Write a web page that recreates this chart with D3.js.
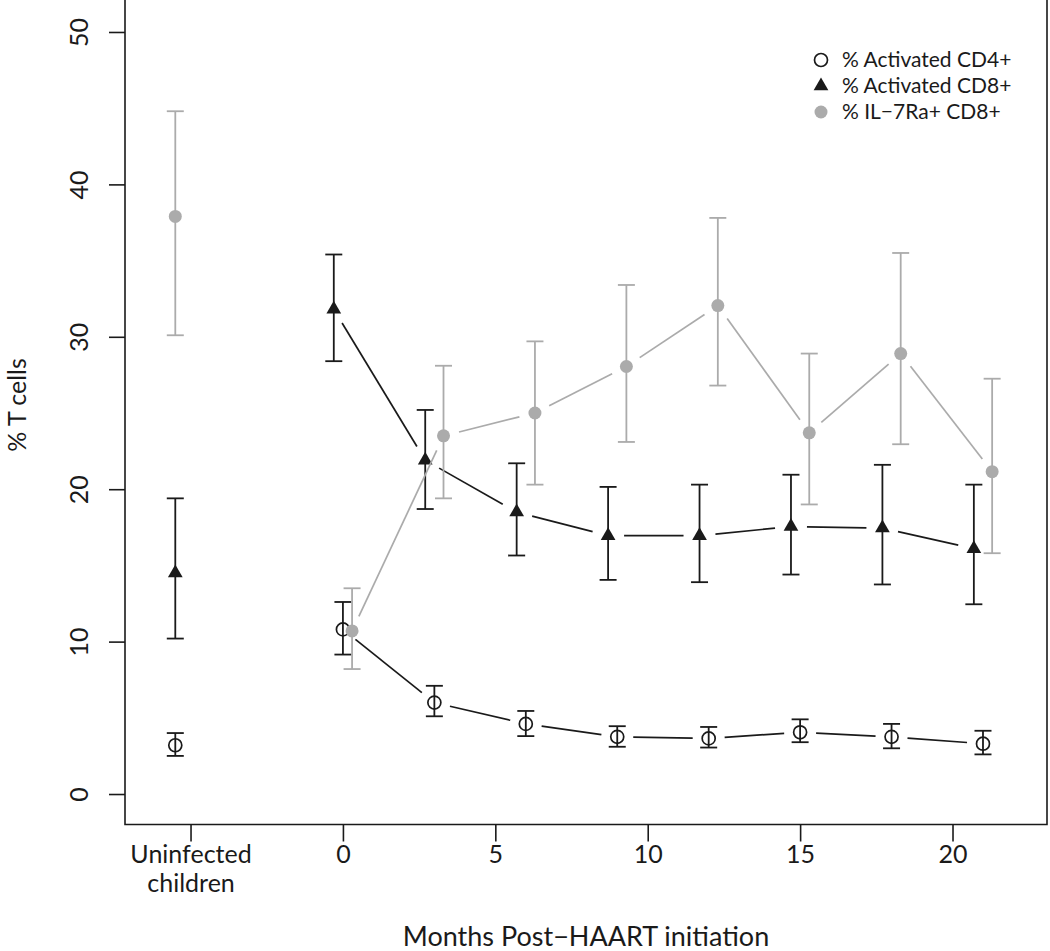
<!DOCTYPE html>
<html>
<head>
<meta charset="utf-8">
<script src="https://cdn.jsdelivr.net/npm/d3@7"></script>
<style>
  html, body { margin: 0; padding: 0; background: #fff; }
  svg text { font-family: Lato, "Liberation Sans", sans-serif; fill: #1a1a1a; }
</style>
</head>
<body>
<svg id="chart" width="1050" height="951"></svg>
<script>
// ---- data ----
const months = [0, 3, 6, 9, 12, 15, 18, 21];
const uninfectedPos = -5.5;          // x position of the uninfected group
const xTickValues = [-5, 0, 5, 10, 15, 20];
const xTickLabels = ["Uninfected\nchildren", "0", "5", "10", "15", "20"];
const yTickValues = [0, 10, 20, 30, 40, 50];

const seriesNames = ["% Activated CD4+", "% Activated CD8+", "% IL\u22127Ra+ CD8+"];
const seriesOffsets = [0, -0.3, 0.3];

// % Activated CD4+
const cd4Mean = [10.8, 6.0, 4.6, 3.75, 3.65, 4.05, 3.75, 3.3];
const cd4Lo   = [9.15, 5.1, 3.8, 3.1, 3.05, 3.4, 3.0, 2.6];
const cd4Hi   = [12.6, 7.1, 5.45, 4.45, 4.4, 4.9, 4.6, 4.15];
const cd4Uninf = [3.2, 2.5, 4.0];        // mean, lo, hi

// % Activated CD8+
const cd8Mean = [31.8, 21.9, 18.5, 16.95, 16.95, 17.55, 17.45, 16.1];
const cd8Lo   = [28.4, 18.7, 15.65, 14.05, 13.9, 14.4, 13.75, 12.45];
const cd8Hi   = [35.4, 25.2, 21.7, 20.15, 20.3, 20.95, 21.6, 20.3];
const cd8Uninf = [14.5, 10.2, 19.4];

// % IL-7Ra+ CD8+
const il7Mean = [10.7, 23.5, 25.0, 28.05, 32.05, 23.7, 28.9, 21.15];
const il7Lo   = [8.2, 19.4, 20.3, 23.1, 26.8, 19.0, 22.95, 15.8];
const il7Hi   = [13.5, 28.1, 29.7, 33.4, 37.8, 28.9, 35.5, 27.25];
const il7Uninf = [37.9, 30.1, 44.8];

// ---- styles ----
const BLACK = "#1a1a1a";
const GREY = "#ababab";

const svg = d3.select("#chart");
const x = d3.scaleLinear().domain([-7.15, 23.1]).range([125, 1047]);
const y = d3.scaleLinear().domain([-2, 52]).range([824.5, 1.5]);

// frame: left, bottom, right (top edge lies outside the picture)
const [x0, x1] = x.range();
const [yb, yt] = y.range();
svg.append("path")
  .attr("d", `M${x0},-2V${yb}H${x1}V-2`)
  .attr("fill", "none").attr("stroke", BLACK).attr("stroke-width", 1.6);

// y axis
const yAxis = d3.axisLeft(y).tickValues(yTickValues).tickSize(16).tickPadding(0).tickFormat(d3.format("d"));
const gy = svg.append("g").attr("transform", `translate(${x0},0)`).call(yAxis);
gy.select(".domain").remove();
gy.selectAll(".tick line").attr("stroke", BLACK).attr("stroke-width", 1.6);
gy.selectAll(".tick text")
  .attr("x", 0).attr("dy", null)
  .attr("transform", "translate(-37,0) rotate(-90)")
  .attr("text-anchor", "middle")
  .style("font-size", "25px").attr("fill", BLACK);

// x axis
const xAxis = d3.axisBottom(x).tickValues(xTickValues).tickSize(17).tickFormat(() => "");
const gx = svg.append("g").attr("transform", `translate(0,${yb})`).call(xAxis);
gx.select(".domain").remove();
gx.selectAll(".tick line").attr("stroke", BLACK).attr("stroke-width", 1.6);
gx.selectAll(".tick").each(function (d, i) {
  const lines = xTickLabels[i].split("\n");
  lines.forEach((ln, j) => {
    d3.select(this).append("text")
      .attr("text-anchor", "middle")
      .attr("x", 0).attr("y", 38 + j * 29)
      .style("font-size", "25px").attr("fill", BLACK)
      .text(ln);
  });
});

// axis titles
svg.append("text")
  .attr("x", (x0 + x1) / 2).attr("y", 946)
  .attr("text-anchor", "middle").style("font-size", "27px")
  .text("Months Post\u2212HAART initiation");
svg.append("text")
  .attr("transform", `translate(26,405) rotate(-90)`)
  .attr("text-anchor", "middle").style("font-size", "25px")
  .text("% T cells");

// ---- helpers ----
const GAP = 16;
function gappedLine(pts, color) {
  for (let i = 0; i < pts.length - 1; i++) {
    const [xa, ya] = pts[i], [xb, ybb] = pts[i + 1];
    const dx = xb - xa, dy = ybb - ya, L = Math.hypot(dx, dy);
    if (L <= 2 * GAP) continue;
    const ux = dx / L, uy = dy / L;
    svg.append("line")
      .attr("x1", xa + ux * GAP).attr("y1", ya + uy * GAP)
      .attr("x2", xb - ux * GAP).attr("y2", ybb - uy * GAP)
      .attr("stroke", color).attr("stroke-width", 1.7);
  }
}
function errBar(px, lo, hi, color) {
  const g = svg.append("g").attr("stroke", color).attr("stroke-width", 1.8);
  g.append("line").attr("x1", px).attr("x2", px).attr("y1", y(lo)).attr("y2", y(hi));
  g.append("line").attr("x1", px - 8.5).attr("x2", px + 8.5).attr("y1", y(lo)).attr("y2", y(lo));
  g.append("line").attr("x1", px - 8.5).attr("x2", px + 8.5).attr("y1", y(hi)).attr("y2", y(hi));
}
const TR = 8.5;
const triPath = `M0,${-TR}L${0.866 * TR},${TR / 2}L${-0.866 * TR},${TR / 2}Z`;
function marker(kind, px, py) {
  if (kind === 0) {
    svg.append("circle").attr("cx", px).attr("cy", py).attr("r", 6.5)
      .attr("fill", "none").attr("stroke", BLACK).attr("stroke-width", 1.7);
  } else if (kind === 1) {
    svg.append("path").attr("d", triPath).attr("transform", `translate(${px},${py})`)
      .attr("fill", BLACK);
  } else {
    svg.append("circle").attr("cx", px).attr("cy", py).attr("r", 6.5).attr("fill", GREY);
  }
}

const series = [
  { mean: cd4Mean, lo: cd4Lo, hi: cd4Hi, un: cd4Uninf, color: BLACK },
  { mean: cd8Mean, lo: cd8Lo, hi: cd8Hi, un: cd8Uninf, color: BLACK },
  { mean: il7Mean, lo: il7Lo, hi: il7Hi, un: il7Uninf, color: GREY }
];

series.forEach((s, k) => {
  const pts = months.map((m, i) => [x(m + seriesOffsets[k]), y(s.mean[i])]);
  gappedLine(pts, s.color);
  months.forEach((m, i) => errBar(pts[i][0], s.lo[i], s.hi[i], s.color));
  errBar(x(uninfectedPos), s.un[1], s.un[2], s.color);
  pts.forEach(p => marker(k, p[0], p[1]));
  marker(k, x(uninfectedPos), y(s.un[0]));
});

// ---- legend ----
const legY = [60, 86, 112];
seriesNames.forEach((name, k) => {
  marker(k, 821, legY[k]);
  svg.append("text").attr("x", 842).attr("y", legY[k]).attr("dy", "0.35em")
    .style("font-size", "21px").text(name);
});
</script>
</body>
</html>
